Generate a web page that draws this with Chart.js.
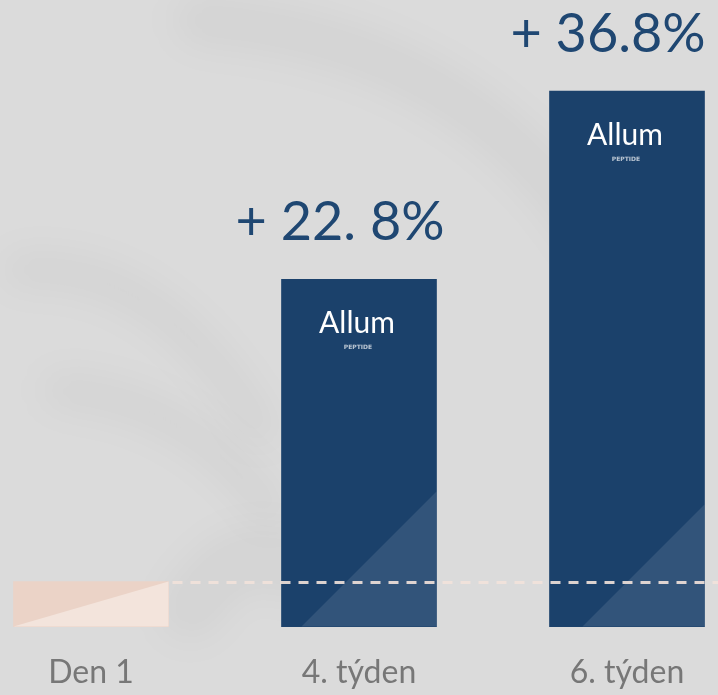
<!DOCTYPE html>
<html>
<head>
<meta charset="utf-8">
<script src="https://cdn.jsdelivr.net/npm/chart.js@4.4.1/dist/chart.umd.min.js"></script>
<style>
  html, body { margin: 0; padding: 0; background: #dadada; }
  #wrap { width: 718px; height: 695px; position: relative; }
</style>
</head>
<body>
<div id="wrap"><canvas id="myChart" width="718" height="695"></canvas></div>
<script>
// data (bar heights, hidden axis)
const labels = ['Den 1', '4. týden', '6. týden'];
const values = [4.5, 34.7, 53.5];
const pctLabels = ['', '+ 22. 8%', '+ 36.8%'];
const yMax = 62.6;

const barColors = ['#ebd3c7', '#1b416b', '#1b416b'];

// background marble + bar decorations
const decor = {
  id: 'decor',
  beforeDraw(chart) {
    const ctx = chart.ctx;
    ctx.save();
    ctx.fillStyle = '#dbdbdb';
    ctx.fillRect(0, 0, chart.width, chart.height);
    ctx.filter = 'blur(18px)';
    ctx.strokeStyle = 'rgba(0,0,0,0.03)';
    ctx.lineCap = 'round';
    ctx.lineWidth = 50;
    ctx.beginPath();
    ctx.moveTo(200, 20);
    ctx.quadraticCurveTo(470, 40, 600, 250);
    ctx.stroke();
    ctx.lineWidth = 35;
    ctx.beginPath();
    ctx.moveTo(20, 270);
    ctx.quadraticCurveTo(160, 260, 260, 430);
    ctx.stroke();
    ctx.beginPath();
    ctx.moveTo(60, 390);
    ctx.quadraticCurveTo(190, 400, 270, 510);
    ctx.stroke();
    ctx.lineWidth = 60;
    ctx.beginPath();
    ctx.moveTo(190, 610);
    ctx.quadraticCurveTo(240, 530, 300, 570);
    ctx.stroke();
    ctx.restore();
  },
  afterDatasetsDraw(chart) {
    const ctx = chart.ctx;
    const bars = chart.getDatasetMeta(0).data;
    const yScale = chart.scales.y;
    ctx.save();
    bars.forEach((b, i) => {
      const left = b.x - b.width / 2, right = b.x + b.width / 2;
      const top = b.y, bottom = b.base;
      ctx.beginPath();
      if (i === 0) {
        ctx.fillStyle = '#f3e4dc';
        ctx.moveTo(left, bottom);
        ctx.lineTo(right, top);
        ctx.lineTo(right, bottom);
      } else {
        const start = left + (i === 1 ? 20 : 33);
        ctx.fillStyle = 'rgba(255,255,255,0.1)';
        ctx.moveTo(start, bottom);
        ctx.lineTo(right, bottom);
        ctx.lineTo(right, bottom - (right - start));
      }
      ctx.closePath();
      ctx.fill();

      if (i > 0) {
        ctx.fillStyle = '#ffffff';
        ctx.textAlign = 'center';
        ctx.textBaseline = 'alphabetic';
        ctx.font = '30px Lato';
        ctx.fillText('Allum', b.x - 2, top + 54);
        ctx.font = 'bold 6px "DejaVu Sans"';
        ctx.fillStyle = 'rgba(255,255,255,0.7)';
        ctx.fillText('PEPTIDE', b.x - 1, top + 70);

        ctx.fillStyle = '#1f4772';
        ctx.font = '54px Lato';
        ctx.fillText(pctLabels[i], b.x - 19, top - 39);
      }
    });

    // dashed reference line at Den 1 level
    const first = bars[0];
    const yRef = Math.round(yScale.getPixelForValue(values[0])) + 0.5;
    ctx.setLineDash([10, 8]);
    ctx.lineWidth = 3;
    ctx.strokeStyle = 'rgba(242,226,218,0.9)';
    ctx.beginPath();
    ctx.moveTo(first.x + first.width / 2 + 4, yRef);
    ctx.lineTo(chart.width, yRef);
    ctx.stroke();
    ctx.restore();
  }
};

new Chart(document.getElementById('myChart').getContext('2d'), {
  type: 'bar',
  data: {
    labels: labels,
    datasets: [{
      data: values,
      backgroundColor: barColors,
      borderWidth: 0,
      barThickness: 155,
      clip: false
    }]
  },
  options: {
    responsive: false,
    animation: false,
    layout: { padding: { left: 91, right: 91, top: 0, bottom: -24 } },
    plugins: { legend: { display: false }, tooltip: { enabled: false } },
    scales: {
      x: {
        offset: false,
        grid: { display: false, drawTicks: false },
        border: { display: false },
        ticks: {
          color: '#777777',
          font: { family: 'Lato', size: 32 },
          padding: 27,
          maxRotation: 0
        }
      },
      y: { display: false, min: 0, max: yMax }
    }
  },
  plugins: [decor]
});
</script>
</body>
</html>
